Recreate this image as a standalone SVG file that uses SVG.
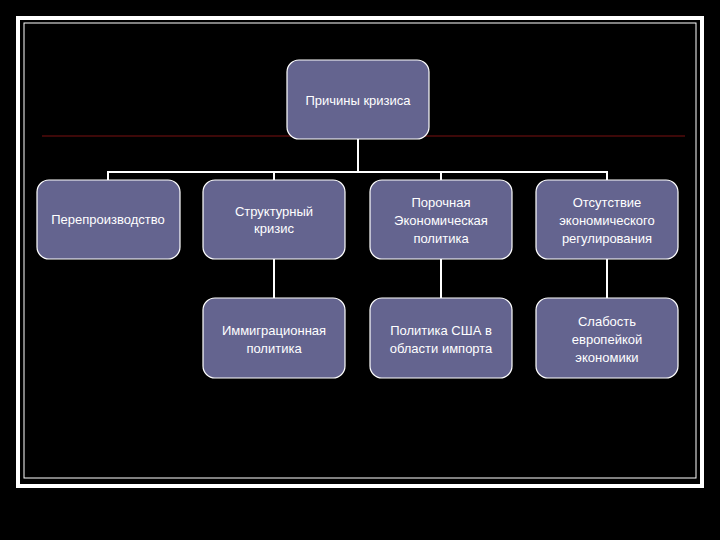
<svg xmlns="http://www.w3.org/2000/svg" width="720" height="540" viewBox="0 0 720 540">
<style>
.n{fill:#64648f;stroke:#fff;stroke-width:1.2}
.t{font-family:"Liberation Sans",Arial,sans-serif;font-size:13px;fill:#fff;text-anchor:middle}
.c{stroke:#fff;stroke-width:2;fill:none}
</style>
<rect width="720" height="540" fill="#000"/>
<rect x="18" y="18" width="684" height="468" fill="none" stroke="#fff" stroke-width="4"/>
<rect x="24" y="23" width="672" height="455" fill="none" stroke="#fff" stroke-width="1"/>
<line x1="42" y1="136" x2="685" y2="136" stroke="#7a1010" stroke-width="1"/>
<g id="connectors">
<path class="c" d="M358 139V172M108 180V172H607V180M274 172V180M441 172V180M274 259V298M441 259V298M607 259V298"/>
</g>
<g id="root"><rect class="n" x="287" y="60" width="142" height="79" rx="12"/><text class="t" x="358" y="105">Причины кризиса</text></g>
<g id="n1"><rect class="n" x="37" y="180" width="143" height="79" rx="12"/><text class="t" x="108" y="224">Перепроизводство</text></g>
<g id="n2"><rect class="n" x="203" y="180" width="142" height="79" rx="12"/><text class="t" x="274" y="216">Структурный</text><text class="t" x="274" y="233">кризис</text></g>
<g id="n3"><rect class="n" x="370" y="180" width="142" height="79" rx="12"/><text class="t" x="441" y="207">Порочная</text><text class="t" x="441" y="225">Экономическая</text><text class="t" x="441" y="243">политика</text></g>
<g id="n4"><rect class="n" x="536" y="180" width="142" height="79" rx="12"/><text class="t" x="607" y="207">Отсутствие</text><text class="t" x="607" y="225">экономического</text><text class="t" x="607" y="243">регулирования</text></g>
<g id="n5"><rect class="n" x="203" y="298" width="142" height="80" rx="12"/><text class="t" x="274" y="335">Иммиграционная</text><text class="t" x="274" y="353">политика</text></g>
<g id="n6"><rect class="n" x="370" y="298" width="142" height="80" rx="12"/><text class="t" x="441" y="335">Политика США в</text><text class="t" x="441" y="353">области импорта</text></g>
<g id="n7"><rect class="n" x="536" y="298" width="142" height="80" rx="12"/><text class="t" x="607" y="326">Слабость</text><text class="t" x="607" y="344">европейкой</text><text class="t" x="607" y="362">экономики</text></g>
</svg>
